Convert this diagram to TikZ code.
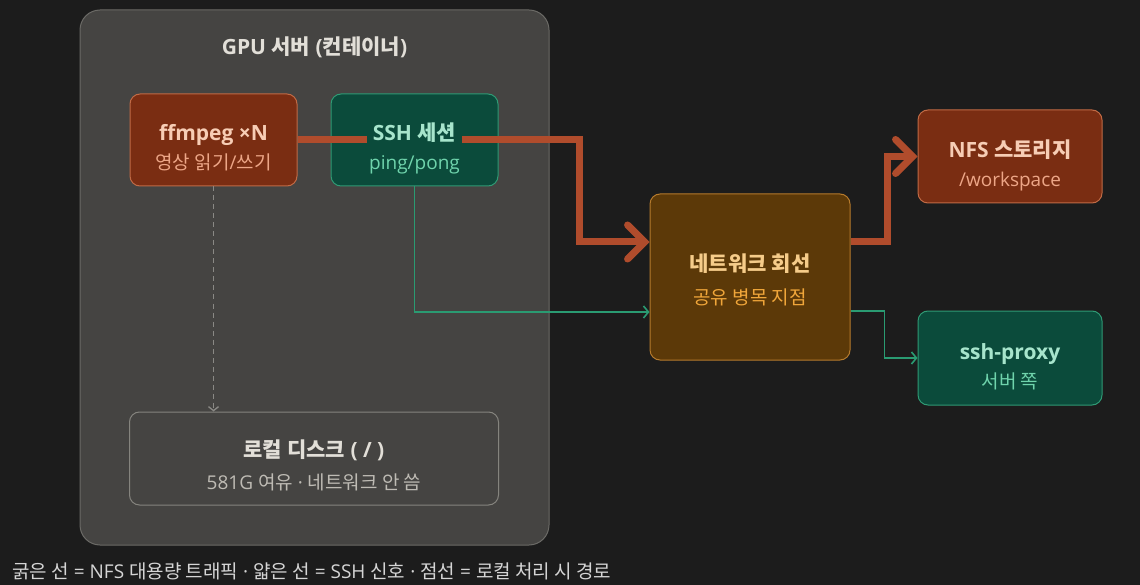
\documentclass[tikz,border=0pt]{standalone}
\usepackage{fontspec}
\setmainfont{Open Sans}
\newfontfamily\kr{Noto Sans CJK KR}
\usetikzlibrary{arrows.meta,calc}
\definecolor{bg}{HTML}{1C1C1C}
\definecolor{contfill}{HTML}{454442}
\definecolor{contline}{HTML}{6B6A66}
\definecolor{brfill}{HTML}{7A2D12}
\definecolor{brline}{HTML}{C06A45}
\definecolor{brtitle}{HTML}{F7CDB5}
\definecolor{brsub}{HTML}{EDA687}
\definecolor{grfill}{HTML}{0B4B3B}
\definecolor{grline}{HTML}{2F9A74}
\definecolor{grtitle}{HTML}{A7E5CC}
\definecolor{grsub}{HTML}{6FD4AC}
\definecolor{orfill}{HTML}{5C3908}
\definecolor{orline}{HTML}{B57A2C}
\definecolor{ortitle}{HTML}{F6CC8A}
\definecolor{orsub}{HTML}{F0A63A}
\definecolor{dkline}{HTML}{85847E}
\definecolor{dktitle}{HTML}{E2DFD8}
\definecolor{dksub}{HTML}{BEBBB4}
\definecolor{thickc}{HTML}{B04C2C}
\definecolor{thinc}{HTML}{2A9B72}
\definecolor{dashc}{HTML}{8A8985}
\definecolor{legc}{HTML}{D5D5D5}
\tikzset{
  box/.style={draw, line width=1pt, rounded corners=10pt, inner sep=0pt, minimum width=#1},
  brbox/.style={box=167pt, fill=brfill, draw=brline, minimum height=92pt},
  grbox/.style={box=167pt, fill=grfill, draw=grline, minimum height=92pt},
  ttl/.style={anchor=base, font=\bfseries\fontsize{21}{24}\selectfont, inner sep=0pt},
  sub/.style={anchor=base, font=\fontsize{19}{22}\selectfont, inner sep=0pt},
  thickarrow/.style={draw=thickc, line width=7pt, -{Straight Barb[length=17pt,width=34pt,line cap=round]}},
  thickline/.style={draw=thickc, line width=7pt},
  thinarrow/.style={draw=thinc, line width=1.6pt, -{Straight Barb[length=5pt,width=12pt]}},
  dasharrow/.style={draw=dashc, line width=1.3pt, dash pattern=on 5pt off 4pt, -{Straight Barb[length=4pt,width=10pt]}}
}
\begin{document}
\begin{tikzpicture}[x=1pt,y=-1pt]
\fill[bg] (0,0) rectangle (1140,585);
\useasboundingbox (0,0) rectangle (1140,585);
% container
\node[draw=contline, fill=contfill, line width=1pt, rounded corners=20pt, minimum width=469pt, minimum height=535pt, inner sep=0pt] (cont) at (314.5,277.5) {};
\node[ttl, text=dktitle] (conttitle) at (314.5,55) {GPU {\kr 서버} ({\kr 컨테이너})};
% boxes
\node[brbox] (ff) at (213.5,140) {};
\node[grbox] (ssh) at (414.5,140) {};
\node[box=369pt, fill=contfill, draw=dkline, minimum height=93pt] (disk) at (314,458.5) {};
\node[box=200pt, fill=orfill, draw=orline, minimum height=166pt] (net) at (750,277) {};
\node[box=184pt, fill=brfill, draw=brline, minimum height=93pt] (nfs) at (1010,156.5) {};
\node[box=184pt, fill=grfill, draw=grline, minimum height=94pt] (proxy) at (1010,358) {};
% connectors
\draw[thickline] (ff.east) -- (ssh.west);
\draw[thickarrow] (ssh.west) -- ++(249,0) |- ([yshift=35pt]net.west);
\draw[thickarrow] ([yshift=35pt]net.east) -- ++(37,0) |- (nfs.west);
\draw[thinarrow] (ssh.south) |- ([yshift=-35pt]net.west);
\draw[thinarrow] ([yshift=-34pt]net.east) -- ++(34,0) |- (proxy.west);
\draw[dasharrow] (ff.south) -- (ff.south |- disk.north);
% texts
\node[ttl, text=brtitle] (fft) at ([yshift=-1pt]ff.center) {ffmpeg ×N};
\node[sub, text=brsub] (ffs) at ([yshift=-30pt]ff.center) {{\kr 영상 읽기}/{\kr 쓰기}};
\node[ttl, text=grtitle, fill=grfill, inner xsep=6pt, inner ysep=2pt] (ssht) at ([yshift=-1pt]ssh.center) {SSH {\kr 세션}};
\node[sub, text=grsub] (sshs) at ([yshift=-30pt]ssh.center) {ping/pong};
\node[ttl, text=ortitle] (nett) at ([yshift=5pt]net.center) {\kr 네트워크 회선};
\node[sub, text=orsub] (nets) at ([yshift=-28pt]net.center) {\kr 공유 병목 지점};
\node[ttl, text=brtitle] (nfst) at ([yshift=-1pt]nfs.center) {NFS {\kr 스토리지}};
\node[sub, text=brsub] (nfss) at ([yshift=-30pt]nfs.center) {/workspace};
\node[ttl, text=grtitle] (proxyt) at ([yshift=-1pt]proxy.center) {ssh-proxy};
\node[sub, text=grsub] (proxys) at ([yshift=-30pt]proxy.center) {\kr 서버 쪽};
\node[ttl, text=dktitle] (diskt) at ([yshift=1pt]disk.center) {{\kr 로컬 디스크} ( / )};
\node[sub, text=dksub] (disks) at ([yshift=-31pt]disk.center) {581G {\kr 여유} · {\kr 네트워크 안 씀}};
% legend
\node[sub, anchor=base west, text=legc, font=\fontsize{19}{22}\selectfont] (legend) at (12,578) {{\kr 굵은 선} = NFS {\kr 대용량 트래픽} · {\kr 얇은 선} = SSH {\kr 신호} · {\kr 점선} = {\kr 로컬 처리 시 경로}};
\end{tikzpicture}
\end{document}
